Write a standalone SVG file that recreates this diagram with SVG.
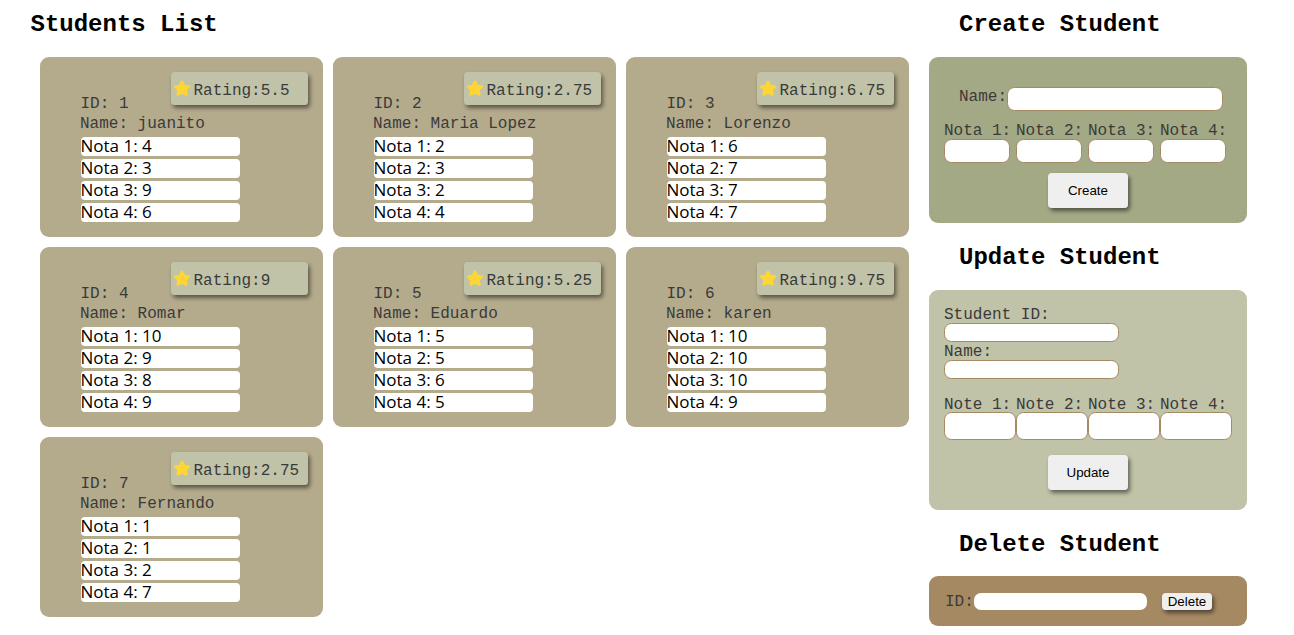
<svg xmlns="http://www.w3.org/2000/svg" xmlns:xlink="http://www.w3.org/1999/xlink" width="1294" height="635" viewBox="0 0 1294 635">
<style>
.m{font-family:"Liberation Mono","Courier New",monospace;font-size:16px;fill:#3a3a3a}
.h{font-family:"Liberation Mono","Courier New",monospace;font-size:24px;font-weight:bold;fill:#000}
.n{font-family:"Open Sans","Noto Sans",sans-serif;font-size:17px;fill:#000}
.b{font-family:"Liberation Sans",Arial,sans-serif;font-size:13.33px;fill:#000;text-anchor:middle}
.card{fill:#b4aa8c}
.rate{fill:#c1c3a8;filter:url(#s)}
.row{fill:#fff}
.inp{fill:#fff;stroke:#a58963;stroke-width:1}
.btn{fill:#efefef;filter:url(#s)}
.star{fill:#fdd535;stroke:#fdd535;stroke-width:3;stroke-linejoin:round}
</style>
<defs>
<filter id="s" x="-20%" y="-30%" width="140%" height="170%"><feDropShadow dx="2" dy="3" stdDeviation="2" flood-color="#000" flood-opacity="0.5"/></filter>
<path id="star" class="star" d="M0,-6.500 L2,-2.300 L6.600,-1.800 L3.200,1.300 L4.100,5.800 L0,3.600 L-4.100,5.800 L-3.200,1.300 L-6.600,-1.800 L-2,-2.300 Z"/>
<g id="base"><rect class="card" width="283" height="180" rx="9"/><rect class="rate" x="131" y="15" width="137" height="33" rx="4"/><use href="#star" x="142" y="31.500"/><rect class="row" x="41" y="80" width="159" height="19" rx="4"/><rect class="row" x="41" y="102" width="159" height="19" rx="4"/><rect class="row" x="41" y="124" width="159" height="19" rx="4"/><rect class="row" x="41" y="146" width="159" height="19" rx="4"/></g>
</defs>
<rect width="1294" height="635" fill="#fff"/>
<text class="h" x="30.500" y="30.500">Students List</text>
<g id="student-1" transform="translate(40,57)"><use href="#base"/><text class="m" x="153.500" y="37.500">Rating:5.5</text><text class="m" x="40.500" y="51">ID: 1</text><text class="m" x="40" y="71">Name: juanito</text><text class="n" x="40.500" y="95">Nota 1: 4</text><text class="n" x="40.500" y="117">Nota 2: 3</text><text class="n" x="40.500" y="139">Nota 3: 9</text><text class="n" x="40.500" y="161">Nota 4: 6</text></g>
<g id="student-2" transform="translate(333,57)"><use href="#base"/><text class="m" x="153.500" y="37.500">Rating:2.75</text><text class="m" x="40.500" y="51">ID: 2</text><text class="m" x="40" y="71">Name: Maria Lopez</text><text class="n" x="40.500" y="95">Nota 1: 2</text><text class="n" x="40.500" y="117">Nota 2: 3</text><text class="n" x="40.500" y="139">Nota 3: 2</text><text class="n" x="40.500" y="161">Nota 4: 4</text></g>
<g id="student-3" transform="translate(626,57)"><use href="#base"/><text class="m" x="153.500" y="37.500">Rating:6.75</text><text class="m" x="40.500" y="51">ID: 3</text><text class="m" x="40" y="71">Name: Lorenzo</text><text class="n" x="40.500" y="95">Nota 1: 6</text><text class="n" x="40.500" y="117">Nota 2: 7</text><text class="n" x="40.500" y="139">Nota 3: 7</text><text class="n" x="40.500" y="161">Nota 4: 7</text></g>
<g id="student-4" transform="translate(40,247)"><use href="#base"/><text class="m" x="153.500" y="37.500">Rating:9</text><text class="m" x="40.500" y="51">ID: 4</text><text class="m" x="40" y="71">Name: Romar</text><text class="n" x="40.500" y="95">Nota 1: 10</text><text class="n" x="40.500" y="117">Nota 2: 9</text><text class="n" x="40.500" y="139">Nota 3: 8</text><text class="n" x="40.500" y="161">Nota 4: 9</text></g>
<g id="student-5" transform="translate(333,247)"><use href="#base"/><text class="m" x="153.500" y="37.500">Rating:5.25</text><text class="m" x="40.500" y="51">ID: 5</text><text class="m" x="40" y="71">Name: Eduardo</text><text class="n" x="40.500" y="95">Nota 1: 5</text><text class="n" x="40.500" y="117">Nota 2: 5</text><text class="n" x="40.500" y="139">Nota 3: 6</text><text class="n" x="40.500" y="161">Nota 4: 5</text></g>
<g id="student-6" transform="translate(626,247)"><use href="#base"/><text class="m" x="153.500" y="37.500">Rating:9.75</text><text class="m" x="40.500" y="51">ID: 6</text><text class="m" x="40" y="71">Name: karen</text><text class="n" x="40.500" y="95">Nota 1: 10</text><text class="n" x="40.500" y="117">Nota 2: 10</text><text class="n" x="40.500" y="139">Nota 3: 10</text><text class="n" x="40.500" y="161">Nota 4: 9</text></g>
<g id="student-7" transform="translate(40,437)"><use href="#base"/><text class="m" x="153.500" y="37.500">Rating:2.75</text><text class="m" x="40.500" y="51">ID: 7</text><text class="m" x="40" y="71">Name: Fernando</text><text class="n" x="40.500" y="95">Nota 1: 1</text><text class="n" x="40.500" y="117">Nota 2: 1</text><text class="n" x="40.500" y="139">Nota 3: 2</text><text class="n" x="40.500" y="161">Nota 4: 7</text></g>
<g id="create">
<text class="h" x="959" y="30.500">Create Student</text>
<rect x="929" y="57" width="318" height="166" rx="9" fill="#a4a985"/>
<text class="m" x="959" y="100.500">Name:</text>
<rect class="inp" x="1007.500" y="87.500" width="215" height="23" rx="7"/>
<text class="m" x="944" y="134.500">Nota 1:</text><text class="m" x="1016" y="134.500">Nota 2:</text><text class="m" x="1088" y="134.500">Nota 3:</text><text class="m" x="1160" y="134.500">Nota 4:</text>
<rect class="inp" x="944.500" y="139.500" width="65" height="23" rx="7"/><rect class="inp" x="1016.500" y="139.500" width="65" height="23" rx="7"/><rect class="inp" x="1088.500" y="139.500" width="65" height="23" rx="7"/><rect class="inp" x="1160.500" y="139.500" width="65" height="23" rx="7"/>
<rect class="btn" x="1048" y="173" width="80" height="35" rx="4"/>
<text class="b" x="1088" y="195">Create</text>
</g>
<g id="update">
<text class="h" x="959" y="263.500">Update Student</text>
<rect x="929" y="290" width="318" height="220" rx="9" fill="#c1c3a8"/>
<text class="m" x="944" y="318.500">Student ID:</text>
<rect class="inp" x="944.500" y="323.500" width="174" height="18" rx="7"/>
<text class="m" x="944" y="355.500">Name:</text>
<rect class="inp" x="944.500" y="360.500" width="174" height="18" rx="7"/>
<text class="m" x="944" y="408.500">Note 1:</text><text class="m" x="1016" y="408.500">Note 2:</text><text class="m" x="1088" y="408.500">Note 3:</text><text class="m" x="1160" y="408.500">Note 4:</text>
<rect class="inp" x="944.500" y="412.500" width="71" height="27" rx="7"/><rect class="inp" x="1016.500" y="412.500" width="71" height="27" rx="7"/><rect class="inp" x="1088.500" y="412.500" width="71" height="27" rx="7"/><rect class="inp" x="1160.500" y="412.500" width="71" height="27" rx="7"/>
<rect class="btn" x="1048" y="455" width="80" height="35" rx="4"/>
<text class="b" x="1088" y="477">Update</text>
</g>
<g id="delete">
<text class="h" x="959" y="550.500">Delete Student</text>
<rect x="929" y="576" width="318" height="50" rx="9" fill="#a58963"/>
<text class="m" x="945" y="606">ID:</text>
<rect class="row" x="974" y="593" width="173" height="17" rx="7"/>
<rect class="btn" x="1162" y="593" width="50" height="17" rx="4"/>
<text class="b" x="1187" y="606">Delete</text>
</g>
</svg>
